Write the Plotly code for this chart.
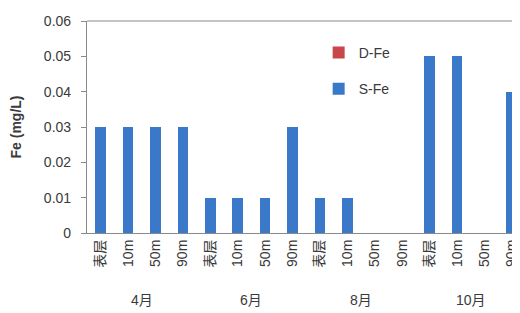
import plotly.graph_objects as go

months = ["4月", "6月", "8月", "10月"]
depths = ["表层", "10m", "50m", "90m"]
s_fe = [0.03, 0.03, 0.03, 0.03,
        0.01, 0.01, 0.01, 0.03,
        0.01, 0.01, 0.0, 0.0,
        0.05, 0.05, 0.0, 0.04]
d_fe = [0.0] * 16
y_ticks = [0, 0.01, 0.02, 0.03, 0.04, 0.05, 0.06]
y_tick_labels = ["0", "0.01", "0.02", "0.03", "0.04", "0.05", "0.06"]

cats = [f"{m}|{d}" for m in months for d in depths]
tick_text = [d for m in months for d in depths]

FONT = "Liberation Sans, Arial, Noto Sans CJK SC, sans-serif"
TXT = "#3a3a3a"

fig = go.Figure()
fig.add_trace(go.Bar(x=cats, y=s_fe, name="S-Fe", marker_color="#3a79c9",
                     marker_line_width=0, legendgroup="s", legendrank=2))
fig.add_trace(go.Bar(x=cats, y=d_fe, name="D-Fe", marker_color="#c8474a",
                     marker_line_width=0, legendgroup="d", legendrank=1))

for i, m in enumerate(months):
    fig.add_annotation(x=i * 4 + 1.5, xref="x", y=-0.316, yref="paper",
                       yanchor="middle", xanchor="center",
                       text=m, showarrow=False,
                       font=dict(size=14, color=TXT, family=FONT))

fig.add_shape(type="line", xref="paper", yref="paper", x0=0, x1=1, y0=1, y1=1,
              line=dict(color="#8a8a8a", width=1.2))

# page body has an 8px margin; compensate so the plot lands where the reference has it
fig.update_layout(
    width=512, height=305,
    margin=dict(l=79, r=0, t=13, b=80, autoexpand=False),
    paper_bgcolor="white", plot_bgcolor="white",
    barmode="stack", bargap=0.61,
    font=dict(family=FONT, size=12, color=TXT),
    showlegend=True,
    legend=dict(x=0.535, y=0.925, xanchor="left", yanchor="top",
                traceorder="grouped", tracegroupgap=15,
                bgcolor="rgba(0,0,0,0)", font=dict(size=14, color=TXT)),
    xaxis=dict(type="category", categoryorder="array", categoryarray=cats,
               tickmode="array", tickvals=cats, ticktext=tick_text,
               tickangle=-90, range=[-0.5, 15.3], automargin=False,
               showline=True, linecolor="#8a8a8a", linewidth=1.2,
               ticks="", showgrid=False, zeroline=False,
               tickfont=dict(size=14, color=TXT)),
    yaxis=dict(range=[0, 0.06], tickmode="array", tickvals=y_ticks,
               ticktext=y_tick_labels, automargin=False,
               showline=True, linecolor="#8a8a8a", linewidth=1.2,
               ticks="outside", ticklen=5, tickcolor="#8a8a8a",
               ticklabelstandoff=7,
               showgrid=False, zeroline=False,
               tickfont=dict(size=14, color=TXT),
               title=dict(text="<b>Fe (mg/L)</b>", standoff=20,
                          font=dict(size=14, color=TXT))),
)

fig.write_html("out.html")
